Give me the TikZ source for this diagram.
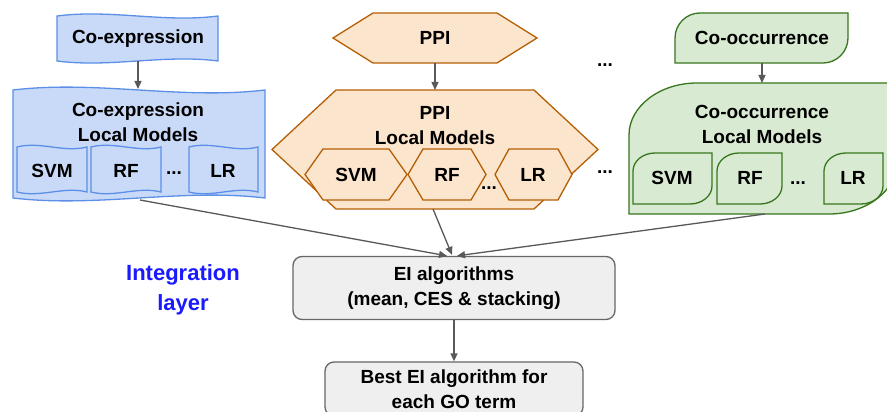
\documentclass[tikz,border=0pt]{standalone}
\usepackage{fontspec}
\setmainfont{Liberation Sans}
\usetikzlibrary{arrows.meta}
\definecolor{bluefill}{HTML}{C9DAF8}
\definecolor{blueline}{HTML}{5B8FE8}
\definecolor{orfill}{HTML}{FCE5CD}
\definecolor{orline}{HTML}{B45F06}
\definecolor{grfill}{HTML}{D9EAD3}
\definecolor{grline}{HTML}{38761D}
\definecolor{gyfill}{HTML}{EFEFEF}
\definecolor{gyline}{HTML}{666666}
\definecolor{arrcol}{HTML}{595959}
\definecolor{intblue}{HTML}{1A1AFF}
\tikzset{
  lbl/.style={font=\fontsize{19}{25}\selectfont\bfseries, align=center, inner sep=0pt, text=black},
  blueshape/.style={fill=bluefill, draw=blueline, line width=1.3pt},
  orshape/.style={fill=orfill, draw=orline, line width=1.3pt, line join=miter},
  grshape/.style={fill=grfill, draw=grline, line width=1.3pt},
  graybox/.style={fill=gyfill, draw=gyline, line width=1.3pt, rounded corners=9pt, align=center,
    font=\fontsize{19}{25}\selectfont\bfseries, inner sep=0pt},
  conn/.style={draw=arrcol, line width=1.3pt, -{Triangle[length=8pt,width=7pt]}},
}
% wave box: style, x1, x2, top, bottom, amplitude
\newcommand\mywave[6][]{%
  \pgfmathsetmacro\wA{#2+(#3-#2)/3}%
  \pgfmathsetmacro\wB{#2+2*(#3-#2)/3}%
  \draw[#1] (#2,#4) .. controls (\wA,#4-2*#6) and (\wB,#4+2*#6) .. (#3,#4) -- (#3,#5)
    .. controls (\wB,#5-2*#6) and (\wA,#5+2*#6) .. (#2,#5) -- cycle;}
% hexagon: style, xl, xr, top, bottom, inset
\newcommand\myhex[6][]{%
  \pgfmathsetmacro\hM{(#4+#5)/2}%
  \draw[#1] (#2,\hM) -- (#2+#6,#4) -- (#3-#6,#4) -- (#3,\hM) -- (#3-#6,#5) -- (#2+#6,#5) -- cycle;}
% leaf: style, x1, x2, top, bottom, rx, ry
\newcommand\myleaf[7][]{%
  \draw[#1] (#2,#5) -- (#2,#4+#7) .. controls (#2,#4+0.45*#7) and (#2+0.45*#6,#4) .. (#2+#6,#4)
    -- (#3,#4) -- (#3,#5-#7) .. controls (#3,#5-0.45*#7) and (#3-0.45*#6,#5) .. (#3-#6,#5) -- cycle;}
\begin{document}
\begin{tikzpicture}[x=1pt,y=-1pt]
\useasboundingbox (0,0) rectangle (887,412);
\clip (0,0) rectangle (887,412);
\fill[white] (0,0) rectangle (887,412);

% ---- Co-expression column ----
\mywave[blueshape]{57}{218}{16}{61}{3.5}
\node[lbl] (cexTop) at (138,39) {Co-expression};
\mywave[blueshape]{13}{265}{90}{198}{5}
\node[lbl] (cexBig) at (138,122) {Co-expression\\Local Models};
\mywave[blueshape]{17}{87}{147}{192}{3}
\mywave[blueshape]{91}{161}{147}{192}{3}
\mywave[blueshape]{189}{258}{147}{192}{3}
\node[lbl] (cexSVM) at (52,171) {SVM};
\node[lbl] (cexRF) at (126,171) {RF};
\node[lbl] (cexDots) at (174,173) {...};
\node[lbl] (cexLR) at (223,171) {LR};

% ---- PPI column ----
\myhex[orshape]{333}{537}{13}{63}{40}
\node[lbl] (ppiTop) at (435,38) {PPI};
\myhex[orshape]{272}{598}{90}{209}{64}
\node[lbl] (ppiBig) at (435,126) {PPI\\Local Models};
\myhex[orshape]{305}{407}{149}{200}{18}
\myhex[orshape]{408}{486}{149}{200}{15}
\myhex[orshape]{495}{572}{149}{200}{14}
\node[lbl] (ppiSVM) at (356,175) {SVM};
\node[lbl] (ppiRF) at (447,175) {RF};
\node[lbl] (ppiDots) at (489,188) {...};
\node[lbl] (ppiLR) at (533,175) {LR};

% ---- between dots ----
\node[lbl] (midDots1) at (605,65) {...};
\node[lbl] (midDots2) at (605,172) {...};

% ---- Co-occurrence column ----
\myleaf[grshape]{675}{848}{13}{63}{25}{25}
\node[lbl] (cocTop) at (762,38) {Co-occurrence};
\myleaf[grshape]{629}{897}{83}{214}{68}{52}
\node[lbl] (cocBig) at (762,124) {Co-occurrence\\Local Models};
\myleaf[grshape]{633}{712}{153}{204}{22}{18}
\myleaf[grshape]{717}{782}{153}{204}{22}{18}
\myleaf[grshape]{824}{883}{153}{204}{22}{18}
\node[lbl] (cocSVM) at (672,178) {SVM};
\node[lbl] (cocRF) at (750,178) {RF};
\node[lbl] (cocDots) at (798,183) {...};
\node[lbl] (cocLR) at (853,178) {LR};

% ---- integration ----
\node[align=center, inner sep=0pt, text=intblue, font=\fontsize{22}{30}\selectfont\bfseries] (intl) at (183,290) {Integration\\layer};
\node[graybox, minimum width=322pt, minimum height=63pt] (ei) at (454,288) {EI algorithms\\(mean, CES \& stacking)};
\node[graybox, minimum width=258pt, minimum height=54pt] (best) at (454,389) {Best EI algorithm for\\each GO term};

% ---- connector anchors ----
\coordinate (cexTopB) at (138,61);
\coordinate (cexBigT) at (138,89);
\coordinate (ppiTopB) at (435,63);
\coordinate (ppiBigT) at (435,90);
\coordinate (cocTopB) at (762,63);
\coordinate (cocBigT) at (762,83);
\coordinate (cexBigB) at (140,200);
\coordinate (ppiBigB) at (433,209);
\coordinate (cocBigB) at (765,214);

\draw[conn] (cexTopB) -- (cexBigT);
\draw[conn] (ppiTopB) -- (ppiBigT);
\draw[conn] (cocTopB) -- (cocBigT);
\draw[conn] (cexBigB) -- ([xshift=-7pt]ei.north);
\draw[conn] (ppiBigB) -- ([xshift=-2pt,yshift=1pt]ei.north);
\draw[conn] (cocBigB) -- ([xshift=3pt]ei.north);
\draw[conn] (ei.south) -- (best.north);
\end{tikzpicture}
\end{document}
